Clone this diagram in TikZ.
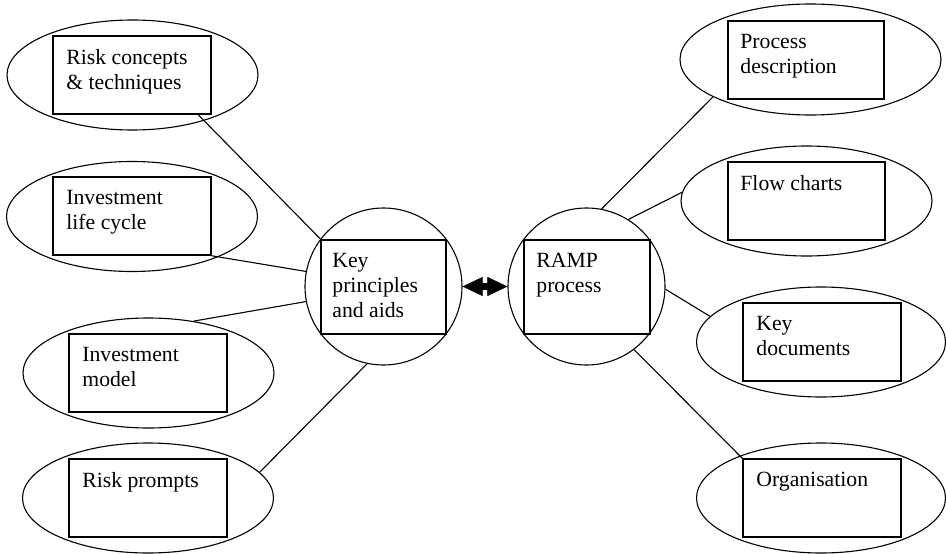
\documentclass[tikz,border=0pt]{standalone}
\usepackage{fontspec}
\setmainfont{Liberation Serif}
\usetikzlibrary{shapes.geometric,arrows.meta}
\begin{document}
\begin{tikzpicture}[x=1pt,y=-1pt,
  oval/.style={draw,ellipse,line width=1.1pt,inner sep=0pt,minimum width=251pt,minimum height=110pt},
  ring/.style={draw,circle,line width=1.1pt,inner sep=0pt,minimum size=157pt},
  box/.style={draw,rectangle,line width=1.6pt,inner sep=0pt,minimum width=158pt,minimum height=78pt},
  hubbox/.style={draw,rectangle,line width=1.6pt,inner sep=0pt,minimum width=125pt,minimum height=94pt},
  lbl/.style={anchor=north west,inner sep=0pt,align=left,font=\fontsize{21.7}{25}\selectfont},
  link/.style={line width=1.1pt},
  swapbar/.style={line width=7pt,shorten <=18pt,shorten >=18pt},
  swap/.style={line width=0.4pt,{Triangle[length=20pt,width=19pt]}-{Triangle[length=20pt,width=19pt]}}]
\useasboundingbox (0,0) rectangle (946,554);

% left cluster
\node[oval] (e1) at (132.5,75) {};
\node[box] (r1) at (132,75) {};
\node[lbl] (t1) at ([shift={(14,14)}]r1.north west) {Risk concepts\\\& techniques};

\node[oval] (e2) at (132,216.5) {};
\node[box] (r2) at (132,216) {};
\node[lbl] (t2) at ([shift={(14,14)}]r2.north west) {Investment\\life cycle};

\node[oval] (e3) at (148.5,373) {};
\node[box] (r3) at (148,373) {};
\node[lbl] (t3) at ([shift={(14,14)}]r3.north west) {Investment\\model};

\node[oval] (e4) at (148,498) {};
\node[box] (r4) at (148,498) {};
\node[lbl] (t4) at ([shift={(14,14)}]r4.north west) {Risk prompts};

% the two hubs
\node[ring] (k1) at (383.5,286.5) {};
\node[hubbox] (h1) at (383.5,287) {};
\node[lbl] (th1) at ([shift={(12,14)}]h1.north west) {Key\\principles\\and aids};

\node[ring] (k2) at (586.5,286.5) {};
\node[hubbox,minimum width=126pt] (h2) at (587,287) {};
\node[lbl] (th2) at ([shift={(13,14)}]h2.north west) {RAMP\\process};

% right cluster
\node[oval,minimum width=261pt,minimum height=111pt] (e5) at (810.5,59.5) {};
\node[box,minimum width=156pt] (r5) at (806,60) {};
\node[lbl] (t5) at ([shift={(13,14)}]r5.north west) {Process\\description};

\node[oval] (e6) at (806.5,201) {};
\node[box,minimum width=157pt] (r6) at (806.5,201) {};
\node[lbl] (t6) at ([shift={(13,14)}]r6.north west) {Flow charts};

\node[oval,minimum width=249pt] (e7) at (821,342) {};
\node[box] (r7) at (822,342) {};
\node[lbl] (t7) at ([shift={(14,14)}]r7.north west) {Key\\documents};

\node[oval,minimum width=249pt] (e8) at (821,498) {};
\node[box] (r8) at (822,498) {};
\node[lbl] (t8) at ([shift={(14,14)}]r8.north west) {Organisation};

% connectors
\draw[link] (r1.-31) -- (k1.143);
\draw[link] (r2.south east) -- (k1.169);
\draw[link] (e3.49) -- (k1.191);
\draw[link] (e4.13) -- (k1.258);

\draw[link] (k2.79) -- (e5.201);
\draw[link] (k2.58) -- (e6.176);
\draw[link] (k2.-2) -- (e7.167);
\draw[link] (k2.-53) -- (r8.north west);

% two-way link between the hubs: heavy bar plus two solid heads
\draw[swapbar] (k1.east) -- (k2.west);
\draw[swap] (k1.east) -- (k2.west);
\end{tikzpicture}
\end{document}
